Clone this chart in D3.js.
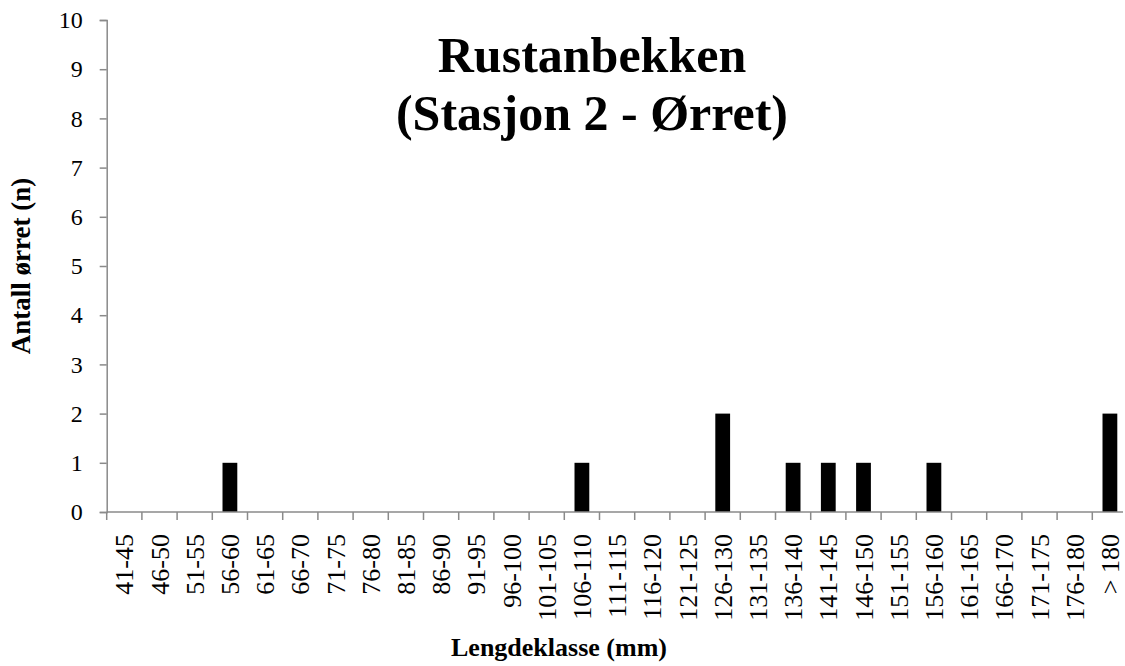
<!DOCTYPE html>
<html>
<head>
<meta charset="utf-8">
<script src="https://cdn.jsdelivr.net/npm/d3@7/dist/d3.min.js"></script>
<style>
  html, body { margin: 0; padding: 0; background: #fff; }
  svg { display: block; font-family: "Liberation Serif", "Times New Roman", serif; }
</style>
</head>
<body>
<svg id="chart" width="1125" height="666"></svg>
<script>
const categories = ["41-45","46-50","51-55","56-60","61-65","66-70","71-75","76-80","81-85","86-90","91-95","96-100","101-105","106-110","111-115","116-120","121-125","126-130","131-135","136-140","141-145","146-150","151-155","156-160","161-165","166-170","171-175","176-180","> 180"];
const counts = [0,0,0,1,0,0,0,0,0,0,0,0,0,1,0,0,0,2,0,1,1,1,0,1,0,0,0,0,2];
const yTicks = [0,1,2,3,4,5,6,7,8,9,10];
const titleLines = ["Rustanbekken", "(Stasjon 2 - Ørret)"];
const xTitle = "Lengdeklasse (mm)";
const yTitle = "Antall ørret (n)";

const svg = d3.select("#chart");
const axisColor = "#8a8a8a";

const plotLeft = 106.7, plotRight = 1127.5, plotTop = 20, plotBottom = 512;

const x = d3.scaleBand().domain(categories).range([plotLeft, plotRight]).paddingInner(0.58).paddingOuter(0.29);
const y = d3.scaleLinear().domain([0, 10]).range([plotBottom, plotTop]);

// bars
svg.append("g").selectAll("rect").data(categories.map((c, i) => ({c, v: counts[i]})).filter(d => d.v > 0))
  .join("rect")
  .attr("x", d => x(d.c))
  .attr("y", d => y(d.v))
  .attr("width", x.bandwidth())
  .attr("height", d => y(0) - y(d.v))
  .attr("fill", "#000");

// y axis
const yAxis = svg.append("g").attr("transform", `translate(${plotLeft},0)`)
  .call(d3.axisLeft(y).tickValues(yTicks).tickSize(7).tickPadding(17).tickFormat(d3.format("d")));
yAxis.select(".domain").attr("stroke", axisColor).attr("stroke-width", 1.5);
yAxis.selectAll(".tick line").attr("stroke", axisColor).attr("stroke-width", 1.5);
yAxis.selectAll(".tick text").attr("font-size", 24).attr("fill", "#000").attr("font-family", "Liberation Serif");

// x axis: ticks at band boundaries
const step = x.step();
const boundaries = categories.map((c, i) => plotLeft + i * step);
const xg = svg.append("g");
xg.append("line").attr("x1", plotLeft).attr("x2", 1123).attr("y1", plotBottom).attr("y2", plotBottom)
  .attr("stroke", axisColor).attr("stroke-width", 1.5);
xg.selectAll("line.tk").data(boundaries).join("line").attr("class", "tk")
  .attr("x1", d => d).attr("x2", d => d).attr("y1", plotBottom).attr("y2", plotBottom + 8)
  .attr("stroke", axisColor).attr("stroke-width", 1.5);
xg.selectAll("text").data(categories).join("text")
  .attr("transform", d => `translate(${x(d) + x.bandwidth() / 2},${plotBottom + 22}) rotate(-90)`)
  .attr("text-anchor", "end")
  .attr("dy", "0.35em")
  .attr("font-size", 26)
  .attr("fill", "#000")
  .text(d => d);

// title
svg.append("g").selectAll("text").data(titleLines).join("text")
  .attr("x", 592)
  .attr("y", (d, i) => 72 + i * 58)
  .attr("text-anchor", "middle")
  .attr("font-size", 50)
  .attr("font-weight", "bold")
  .text(d => d);

// axis titles
svg.append("text").attr("x", 559).attr("y", 656).attr("text-anchor", "middle")
  .attr("font-size", 26).attr("font-weight", "bold").text(xTitle);
svg.append("text").attr("transform", "translate(30,266) rotate(-90)").attr("text-anchor", "middle")
  .attr("font-size", 27).attr("font-weight", "bold").text(yTitle);
</script>
</body>
</html>
